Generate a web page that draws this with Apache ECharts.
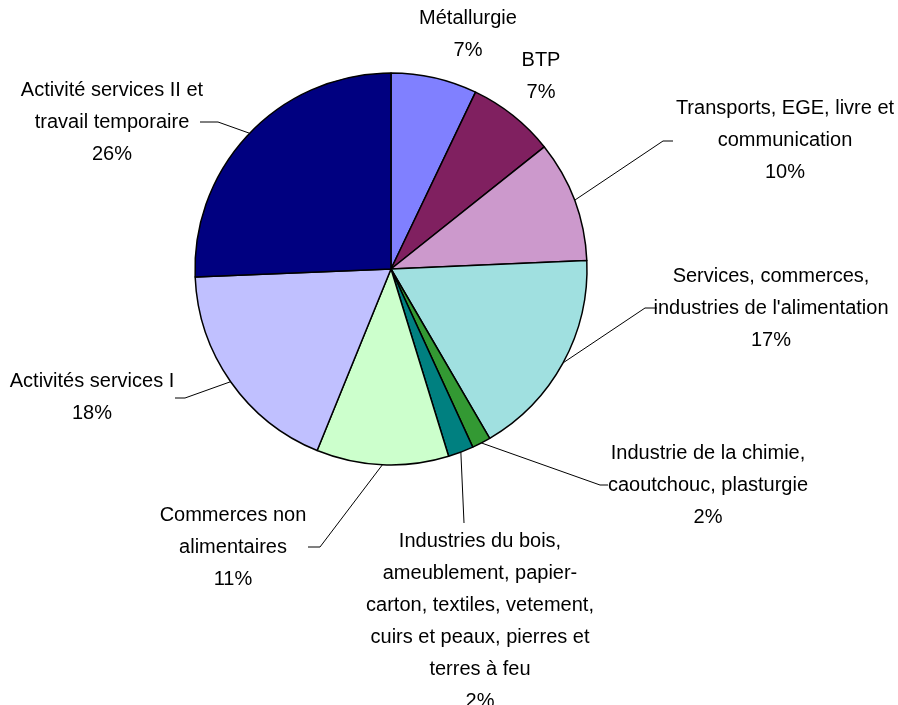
<!DOCTYPE html>
<html>
<head>
<meta charset="utf-8">
<script src="https://cdn.jsdelivr.net/npm/echarts@6/dist/echarts.min.js"></script>
<style>
html,body{margin:0;padding:0;background:#fff;}
#chart{width:898px;height:705px;}
</style>
</head>
<body>
<div id="chart"></div>
<script>
// Data (shares in %)
const categories = [
  "Métallurgie",
  "BTP",
  "Transports, EGE, livre et\ncommunication",
  "Services, commerces,\nindustries de l'alimentation",
  "Industrie de la chimie,\ncaoutchouc, plasturgie",
  "Industries du bois,\nameublement, papier-\ncarton, textiles, vetement,\ncuirs et peaux, pierres et\nterres à feu",
  "Commerces non\nalimentaires",
  "Activités services I",
  "Activité services II et\ntravail temporaire"
];
const values = [7.1, 7.2, 10.0, 17.3, 1.55, 2.1, 10.9, 18.2, 25.65];
const colors = ["#8080FF", "#802060", "#CC99CC", "#A0E0E0", "#339933", "#008080", "#CCFFCC", "#C0C0FF", "#000080"];

// Label layout (position of label centre, leader line bends)
const labelCenters = [[468, 34], [541, 76], [785, 140], [771, 308], [708, 485], [480, 621], [233, 547], [92, 397], [112, 122]];
const lineBends = [null, null, [[663, 141], [673, 141]], [[645, 308], [657, 308]], [[600, 485], [608, 485]], [[464, 523]], [[320, 547], [308, 547]], [[185, 398], [175, 398]], [[218, 122], [200, 122]]];

const chart = echarts.init(document.getElementById('chart'), null, {renderer: 'canvas'});
chart.setOption({
  backgroundColor: '#fff',
  animation: false,
  series: [{
    type: 'pie',
    center: [391, 269],
    radius: 196,
    startAngle: 90,
    clockwise: true,
    avoidLabelOverlap: false,
    data: categories.map((c, i) => ({
      name: c, value: values[i],
      itemStyle: {color: colors[i]},
      labelLine: {show: lineBends[i] !== null}
    })),
    itemStyle: {borderColor: '#000', borderWidth: 1.5},
    emphasis: {disabled: true},
    label: {
      show: true,
      position: 'outside',
      formatter: p => p.name + '\n' + Math.round(p.percent) + '%',
      fontFamily: '"Liberation Sans", Arial, sans-serif',
      fontSize: 20,
      lineHeight: 32,
      color: '#000',
      align: 'center'
    },
    labelLine: {show: true, lineStyle: {color: '#000', width: 1}, length: 10, length2: 10},
    labelLayout: function (params) {
      const i = params.dataIndex;
      const c = labelCenters[i];
      const res = {x: c[0], y: c[1], align: 'center', verticalAlign: 'middle'};
      if (lineBends[i] && params.labelLinePoints) {
        res.labelLinePoints = [params.labelLinePoints[0]].concat(lineBends[i]);
      }
      return res;
    }
  }]
});
</script>
</body>
</html>
